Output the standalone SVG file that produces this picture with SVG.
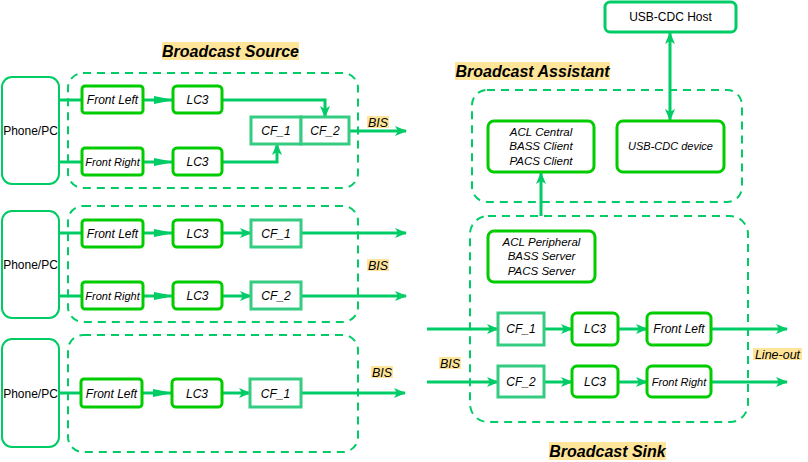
<svg xmlns="http://www.w3.org/2000/svg" width="808" height="462" viewBox="0 0 808 462">
<defs>
<marker id="arr" viewBox="0 0 12 10" refX="11" refY="5" markerWidth="12" markerHeight="10" markerUnits="userSpaceOnUse" orient="auto-start-reverse">
<path d="M0,0 L12,5 L0,10 L3,5 Z" fill="#00CC66"/>
</marker>
<marker id="thin" viewBox="0 0 20 8" refX="19" refY="4" markerWidth="20" markerHeight="8" markerUnits="userSpaceOnUse" orient="auto">
<path d="M0,0 L20,4 L0,8 Z" fill="#00CC66"/>
</marker>
</defs>
<style>
.cont{fill:none;stroke:#00CC66;stroke-width:2;stroke-dasharray:8 6}
.dev{fill:#fff;stroke:#00CC66;stroke-width:2}
.blk{fill:#fff;stroke:#00CC00;stroke-width:3}
.cf{fill:#fff;stroke:#33CC80;stroke-width:3}
.c{fill:none;stroke:#00CC66;stroke-width:3}
.t{font-family:"Liberation Sans",Arial,sans-serif;font-style:italic;fill:#000;text-anchor:middle;font-size:12px}
.s{font-size:11px}
.m{font-size:12px}
.p{font-size:11.5px}
.n{font-family:"Liberation Sans",Arial,sans-serif;font-size:12px;fill:#000;text-anchor:middle}
.h{font-family:"Liberation Sans",Arial,sans-serif;font-style:italic;font-weight:bold;font-size:16px;fill:#000;text-anchor:middle}
.lb{font-family:"Liberation Sans",Arial,sans-serif;font-style:italic;font-size:12.5px;fill:#000;text-anchor:middle}
.bg{fill:#FFE599}
</style>
<rect width="808" height="462" fill="#fff"/>

<g id="containers">
<rect id="src1" class="cont" x="68" y="73" width="290" height="115" rx="15"/>
<rect id="src2" class="cont" x="68" y="206" width="290" height="116" rx="15"/>
<rect id="src3" class="cont" x="68" y="335" width="290" height="117" rx="15"/>
<rect id="assistant" class="cont" x="472" y="90" width="270" height="112" rx="15"/>
<rect id="sink" class="cont" x="470" y="216" width="278" height="206" rx="18"/>
</g>

<g id="connectors">
<line class="c" x1="59" y1="100" x2="82" y2="100"/>
<line class="c" x1="59" y1="162" x2="82" y2="162"/>
<line class="c" x1="143" y1="100" x2="173" y2="100" marker-end="url(#thin)"/>
<line class="c" x1="143" y1="162" x2="173" y2="162" marker-end="url(#thin)"/>
<polyline class="c" points="222,100 325,100 325,117" marker-end="url(#arr)"/>
<polyline class="c" points="222,162 277,162 277,144" marker-end="url(#arr)"/>
<line class="c" x1="349" y1="131" x2="406" y2="131" marker-end="url(#arr)"/>

<line class="c" x1="59" y1="233" x2="82" y2="233"/>
<line class="c" x1="59" y1="296" x2="82" y2="296"/>
<line class="c" x1="143" y1="233" x2="173" y2="233" marker-end="url(#thin)"/>
<line class="c" x1="143" y1="296" x2="173" y2="296" marker-end="url(#thin)"/>
<line class="c" x1="222" y1="233" x2="251" y2="233" marker-end="url(#arr)"/>
<line class="c" x1="222" y1="296" x2="251" y2="296" marker-end="url(#arr)"/>
<line class="c" x1="301" y1="233" x2="406" y2="233" marker-end="url(#arr)"/>
<line class="c" x1="301" y1="296" x2="406" y2="296" marker-end="url(#arr)"/>

<line class="c" x1="59" y1="393" x2="81" y2="393"/>
<line class="c" x1="142" y1="393" x2="172" y2="393" marker-end="url(#thin)"/>
<line class="c" x1="222" y1="393" x2="250" y2="393" marker-end="url(#arr)"/>
<line class="c" x1="301" y1="393" x2="405" y2="393" marker-end="url(#arr)"/>

<line class="c" x1="670" y1="33" x2="670" y2="120" marker-start="url(#arr)" marker-end="url(#arr)"/>
<line class="c" x1="541" y1="216" x2="541" y2="173" marker-end="url(#arr)"/>

<line class="c" x1="427" y1="329" x2="498" y2="329" marker-end="url(#arr)"/>
<line class="c" x1="544" y1="329" x2="572" y2="329" marker-end="url(#arr)"/>
<line class="c" x1="618" y1="329" x2="647" y2="329" marker-end="url(#arr)"/>
<line class="c" x1="711" y1="329" x2="787" y2="329" marker-end="url(#arr)"/>
<line class="c" x1="427" y1="382" x2="498" y2="382" marker-end="url(#arr)"/>
<line class="c" x1="544" y1="382" x2="572" y2="382" marker-end="url(#arr)"/>
<line class="c" x1="618" y1="382" x2="647" y2="382" marker-end="url(#arr)"/>
<line class="c" x1="711" y1="382" x2="787" y2="382" marker-end="url(#arr)"/>
</g>

<g id="phone1"><rect class="dev" x="2" y="77" width="57" height="107" rx="10"/><text class="n" x="30.5" y="135">Phone/PC</text></g>
<g id="phone2"><rect class="dev" x="2" y="211" width="57" height="107" rx="10"/><text class="n" x="30.5" y="269">Phone/PC</text></g>
<g id="phone3"><rect class="dev" x="2" y="339" width="57" height="108" rx="10"/><text class="n" x="30.5" y="398">Phone/PC</text></g>

<g id="s1fl"><rect class="blk" x="82" y="86" width="61" height="27" rx="3"/><text class="t m" x="112.5" y="104">Front Left</text></g>
<g id="s1lc3a"><rect class="blk" x="173" y="86" width="49" height="27" rx="4"/><text class="t" x="197.5" y="104">LC3</text></g>
<g id="s1fr"><rect class="blk" x="82" y="148" width="61" height="27" rx="3"/><text class="t s" x="112.5" y="165.5">Front Right</text></g>
<g id="s1lc3b"><rect class="blk" x="173" y="148" width="49" height="27" rx="4"/><text class="t" x="197.5" y="166">LC3</text></g>
<g id="s1cf1"><rect class="cf" x="251" y="117" width="50" height="27"/><text class="t" x="276" y="135">CF_1</text></g>
<g id="s1cf2"><rect class="cf" x="301" y="117" width="48" height="27"/><text class="t" x="325" y="135">CF_2</text></g>

<g id="s2fl"><rect class="blk" x="82" y="220" width="61" height="27" rx="3"/><text class="t m" x="112.5" y="238">Front Left</text></g>
<g id="s2lc3a"><rect class="blk" x="173" y="220" width="49" height="27" rx="4"/><text class="t" x="197.5" y="238">LC3</text></g>
<g id="s2cf1"><rect class="cf" x="251" y="220" width="50" height="27"/><text class="t" x="276" y="238">CF_1</text></g>
<g id="s2fr"><rect class="blk" x="82" y="282" width="61" height="27" rx="3"/><text class="t s" x="112.5" y="299.5">Front Right</text></g>
<g id="s2lc3b"><rect class="blk" x="173" y="282" width="49" height="27" rx="4"/><text class="t" x="197.5" y="300">LC3</text></g>
<g id="s2cf2"><rect class="cf" x="251" y="282" width="50" height="27"/><text class="t" x="276" y="300">CF_2</text></g>

<g id="s3fl"><rect class="blk" x="81" y="379" width="61" height="28" rx="3"/><text class="t m" x="111.5" y="397.5">Front Left</text></g>
<g id="s3lc3"><rect class="blk" x="172" y="379" width="50" height="28" rx="4"/><text class="t" x="197" y="397.5">LC3</text></g>
<g id="s3cf1"><rect class="cf" x="250" y="379" width="51" height="28"/><text class="t" x="275.5" y="397.5">CF_1</text></g>

<g id="usbhost"><rect class="dev" x="605" y="2" width="131" height="30" rx="5" style="stroke-width:3"/><text class="n" x="670.5" y="21">USB-CDC Host</text></g>
<g id="aclcentral"><rect class="blk" x="488" y="121" width="106" height="51" rx="6"/>
<text class="t p" x="541" y="136">ACL Central</text><text class="t p" x="541" y="150">BASS Client</text><text class="t p" x="541" y="165">PACS Client</text></g>
<g id="usbdev"><rect class="blk" x="617" y="121" width="107" height="51" rx="6"/><text class="t s" x="670.5" y="150">USB-CDC device</text></g>

<g id="aclperiph"><rect class="blk" x="488" y="231" width="107" height="51" rx="6"/>
<text class="t p" x="541.5" y="246">ACL Peripheral</text><text class="t p" x="541.5" y="260">BASS Server</text><text class="t p" x="541.5" y="275">PACS Server</text></g>
<g id="k1cf1"><rect class="cf" x="498" y="313" width="46" height="32"/><text class="t" x="521" y="333">CF_1</text></g>
<g id="k1lc3"><rect class="blk" x="572" y="313" width="46" height="32" rx="5"/><text class="t" x="595" y="333">LC3</text></g>
<g id="k1fl"><rect class="blk" x="647" y="313" width="64" height="32" rx="5"/><text class="t m" x="679" y="333">Front Left</text></g>
<g id="k2cf2"><rect class="cf" x="498" y="366" width="46" height="31"/><text class="t" x="521" y="386">CF_2</text></g>
<g id="k2lc3"><rect class="blk" x="572" y="366" width="46" height="31" rx="5"/><text class="t" x="595" y="386">LC3</text></g>
<g id="k2fr"><rect class="blk" x="647" y="366" width="64" height="31" rx="5"/><text class="t s" x="679" y="385.5">Front Right</text></g>

<g id="labels">
<rect class="bg" x="162" y="42" width="137" height="18"/><text class="h" x="230.5" y="56.5">Broadcast Source</text>
<rect class="bg" x="455" y="62" width="155" height="18"/><text class="h" x="532.5" y="76.5">Broadcast Assistant</text>
<rect class="bg" x="549" y="442" width="117" height="18"/><text class="h" x="607.5" y="456.5">Broadcast Sink</text>
<rect class="bg" x="367" y="116" width="22" height="12"/><text class="lb" x="378" y="126.5">BIS</text>
<rect class="bg" x="367" y="259" width="22" height="12"/><text class="lb" x="378" y="269.5">BIS</text>
<rect class="bg" x="371" y="366" width="22" height="12"/><text class="lb" x="382" y="376.5">BIS</text>
<rect class="bg" x="439" y="357" width="22" height="12"/><text class="lb" x="450" y="367.5">BIS</text>
<rect class="bg" x="753" y="348" width="49" height="12"/><text class="lb" x="777.5" y="358.5">Line-out</text>
</g>
</svg>
